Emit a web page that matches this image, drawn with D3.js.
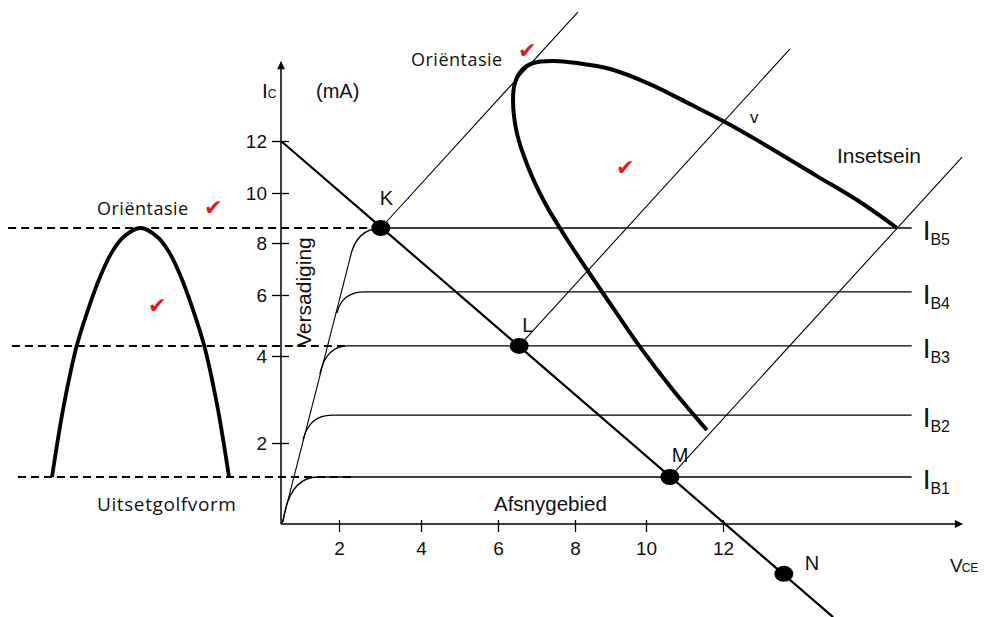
<!DOCTYPE html>
<html>
<head>
<meta charset="utf-8">
<script src="https://cdn.jsdelivr.net/npm/d3@7"></script>
<style>
  body { margin: 0; background: #fff; }
  svg { display: block; }
  text { font-family: "Liberation Sans", Arial, sans-serif; fill: #111; }
  .cal { font-family: "Open Sans", "Noto Sans", sans-serif; }
</style>
</head>
<body>
<div id="chart"></div>
<script>
// axis tick values (VCE in V, IC in mA)
const xTicks = [2, 4, 6, 8, 10, 12];
const yTicks = [2, 4, 6, 8, 10, 12];

// base current lines: IC level of each flat part
const ibNames = ["B1", "B2", "B3", "B4", "B5"];
const ibLevels = [1.16, 2.64, 4.33, 6.12, 8.6];
const vceEnd = 16.9;
// knee of each IB curve: start on saturation line, corner, start of the flat part
const ibKnees = [
  [[0.07, 0.05], [0.28, 1.16], [1.28, 1.16]],
  [[0.76, 2.07], [0.97, 2.64], [1.76, 2.64]],
  [[1.34, 3.59], [1.55, 4.33], [2.22, 4.33]],
  [[1.93, 5.41], [2.07, 6.12], [2.63, 6.12]],
  [[2.27, 7.42], [2.41, 8.56], [3.02, 8.6]]
];
const satLine = [[0.03, 0], [2.27, 7.42]];
const loadLine = [[0, 12], [14.86, -2.3]];

// operating points on the load line
const qNames = ["K", "L", "M", "N"];
const qVce = [3.02, 6.55, 10.62, 13.58];
const qIc = [8.6, 4.33, 1.16, -1.23];

// slanted time axes for the input signal
const timeAxes = [
  [[3.02, 8.6], [8.08, 16.96]],
  [[6.55, 4.33], [13.74, 15.54]],
  [[10.62, 1.16], [18.21, 11.38]]
];

// input signal (Insetsein) [VCE, IC]
const inputWave = [
  [11.58, 2.3], [10.7, 3.22], [9.83, 4.3], [9.13, 5.48], [8.42, 6.81],
  [7.77, 8.2], [7.22, 9.6], [6.78, 11.0], [6.49, 12.31], [6.39, 13.58],
  [6.44, 14.23], [6.62, 14.73], [6.91, 15.0], [7.43, 15.08], [8.06, 15.0],
  [8.99, 14.77], [10.1, 14.19], [11.14, 13.42], [12.1, 12.69], [13.14, 11.81],
  [14.44, 10.65], [15.56, 9.64], [16.52, 8.6]
];

// output waveform (Uitsetgolfvorm) [phase deg, IC]
const outputWave = [
  [1, 1.16], [12.6, 2.83], [26.1, 4.36], [38.2, 5.61], [49.3, 6.69], [60.8, 7.62],
  [72.9, 8.24], [90, 8.6], [107.1, 8.24], [119.2, 7.62], [130.7, 6.69], [141.8, 5.61],
  [153.9, 4.36], [167.4, 2.83], [179, 1.16]
];

// dashed projection lines [IC, VCE from, VCE to]
const dashLevels = [8.6, 4.33, 1.16];
const dashFrom = [-9.41, -9.28, -9.07];
const dashTo = [2.8, 2.15, 2.32];

const xMax = 18.21, yMax = 15.04;

const width = 985, height = 617;
const svg = d3.select("#chart").append("svg")
  .attr("width", width).attr("height", height)
  .attr("viewBox", [0, 0, width, height]);

// hand drawn axes: tick spacing is not even, so piecewise scales
const x = d3.scaleLinear()
  .domain([0, 2, 4, 6, 8, 10, 12])
  .range([281, 339, 421, 498, 575, 646, 723]);
const y = d3.scaleLinear()
  .domain([0, 2, 4, 6, 8, 10, 12])
  .range([524, 443, 356, 295, 243, 193, 141]);
const t = d3.scaleLinear().domain([0, 180]).range([51, 230]);

const line = d3.line().x(d => x(d[0])).y(d => y(d[1]));

svg.append("defs").append("marker")
    .attr("id", "arrow")
    .attr("viewBox", "0 0 10 10")
    .attr("refX", 9).attr("refY", 5)
    .attr("markerWidth", 11).attr("markerHeight", 8)
    .attr("markerUnits", "userSpaceOnUse")
    .attr("orient", "auto")
  .append("path")
    .attr("d", "M0,0L10,5L0,10Z")
    .attr("fill", "#000");

// dashed lines
dashLevels.forEach((lv, i) => {
  svg.append("path")
    .attr("d", line([[dashFrom[i], lv], [dashTo[i], lv]]))
    .attr("fill", "none").attr("stroke", "#000")
    .attr("stroke-width", 2).attr("stroke-dasharray", "8,5");
});

// axes
svg.append("path")
  .attr("d", line([[0, 0], [xMax, 0]]))
  .attr("stroke", "#000").attr("stroke-width", 1.5)
  .attr("marker-end", "url(#arrow)");
svg.append("path")
  .attr("d", line([[0, 0], [0, yMax]]))
  .attr("stroke", "#000").attr("stroke-width", 1.5)
  .attr("marker-end", "url(#arrow)");

const gx = svg.append("g")
  .attr("transform", `translate(0,${y(0)})`)
  .call(d3.axisBottom(x).tickValues(xTicks).tickSize(8).tickPadding(10));
gx.select(".domain").remove();
gx.selectAll(".tick line").attr("y1", -4).attr("stroke-width", 1.3);
gx.selectAll(".tick text").attr("font-size", 19).attr("font-family", "Liberation Sans, Arial, sans-serif");

const gy = svg.append("g")
  .attr("transform", `translate(${x(0)},0)`)
  .call(d3.axisLeft(y).tickValues(yTicks).tickSize(9).tickPadding(5));
gy.select(".domain").remove();
gy.selectAll(".tick line").attr("x1", 8).attr("stroke-width", 1.3);
gy.selectAll(".tick text").attr("font-size", 19).attr("font-family", "Liberation Sans, Arial, sans-serif");

// saturation line
svg.append("path")
  .attr("d", line(satLine))
  .attr("fill", "none").attr("stroke", "#000").attr("stroke-width", 1.1);

// IB curves
ibKnees.forEach((k, i) => {
  const p = d3.path();
  p.moveTo(x(k[0][0]), y(k[0][1]));
  p.quadraticCurveTo(x(k[1][0]), y(k[1][1]), x(k[2][0]), y(k[2][1]));
  p.lineTo(x(vceEnd), y(ibLevels[i]));
  svg.append("path")
    .attr("d", p.toString())
    .attr("fill", "none").attr("stroke", "#000").attr("stroke-width", 1.3);

  const lab = svg.append("text")
    .attr("x", x(vceEnd) + 11)
    .attr("y", y(ibLevels[i]) + 12)
    .attr("font-size", 28)
    .text("I");
  lab.append("tspan")
    .attr("font-size", 16)
    .attr("dy", 5)
    .text(ibNames[i]);
});

// time axes
timeAxes.forEach(a => {
  svg.append("path")
    .attr("d", line(a))
    .attr("fill", "none").attr("stroke", "#000").attr("stroke-width", 1.1);
});

// load line
svg.append("path")
  .attr("d", line(loadLine))
  .attr("fill", "none").attr("stroke", "#000").attr("stroke-width", 2.2);

// input signal
svg.append("path")
  .attr("d", d3.line().x(d => x(d[0])).y(d => y(d[1])).curve(d3.curveCatmullRom)(inputWave))
  .attr("fill", "none").attr("stroke", "#000").attr("stroke-width", 4);

// output waveform
svg.append("path")
  .attr("d", d3.line().x(d => t(d[0])).y(d => y(d[1])).curve(d3.curveCatmullRom)(outputWave))
  .attr("fill", "none").attr("stroke", "#000").attr("stroke-width", 3.8);

// operating points
qNames.forEach((n, i) => {
  svg.append("ellipse")
    .attr("cx", x(qVce[i])).attr("cy", y(qIc[i]))
    .attr("rx", 9.5).attr("ry", 8)
    .attr("fill", "#000");
});
const qLab = [[-1, -23], [3, -14], [2, -15], [21, -4]];
qNames.forEach((n, i) => {
  svg.append("text")
    .attr("x", x(qVce[i]) + qLab[i][0])
    .attr("y", y(qIc[i]) + qLab[i][1])
    .attr("font-size", 20)
    .text(n);
});

// axis titles
const ic = svg.append("text").attr("x", 262).attr("y", 98).attr("font-size", 21).text("I");
ic.append("tspan").attr("font-size", 12).text("C");
svg.append("text").attr("x", 316).attr("y", 98).attr("font-size", 20).text("(mA)");
const vce = svg.append("text").attr("x", 950).attr("y", 572).attr("font-size", 19)
  .attr("letter-spacing", -3).text("V");
vce.append("tspan").attr("font-size", 12).attr("letter-spacing", 0).attr("dx", 2).text("CE");

// region labels
svg.append("text")
  .attr("transform", "translate(311,347) rotate(-90)")
  .attr("font-size", 21)
  .text("Versadiging");
svg.append("text").attr("x", 494).attr("y", 511).attr("font-size", 20.5).text("Afsnygebied");
svg.append("text").attr("x", 837).attr("y", 163).attr("font-size", 21).text("Insetsein");
svg.append("text").attr("x", 750).attr("y", 123).attr("font-size", 17).text("v");

svg.append("text").attr("class", "cal").attr("x", 411).attr("y", 66)
  .attr("font-size", 18).attr("letter-spacing", 0.5).text("Oriëntasie");
svg.append("text").attr("class", "cal").attr("x", 97).attr("y", 215)
  .attr("font-size", 18).attr("letter-spacing", 0.5).text("Oriëntasie");
svg.append("text").attr("class", "cal").attr("x", 97).attr("y", 511)
  .attr("font-size", 19).attr("letter-spacing", 0.6).text("Uitsetgolfvorm");

// marker ticks (centre positions)
const checks = [[527, 50], [213, 207], [157, 305], [625, 167]];
checks.forEach(c => {
  svg.append("text")
    .attr("x", c[0]).attr("y", c[1] + 8)
    .attr("text-anchor", "middle")
    .attr("font-family", "DejaVu Sans, sans-serif")
    .attr("font-size", 22)
    .style("fill", "#e8141b")
    .text("✔");
});
</script>
</body>
</html>
